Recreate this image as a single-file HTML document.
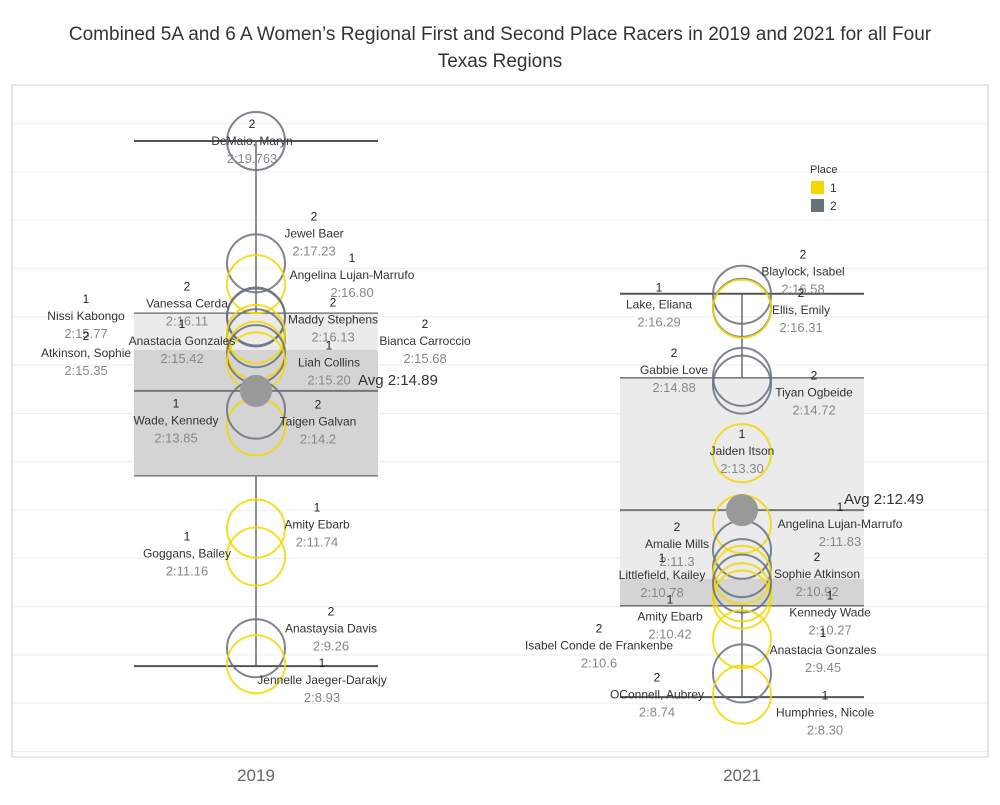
<!DOCTYPE html>
<html><head><meta charset="utf-8">
<style>
body{margin:0;background:#fff;}
svg text{font-family:"Liberation Sans",sans-serif;}
</style></head>
<body>
<svg id="chart" width="1000" height="800" xmlns="http://www.w3.org/2000/svg">
<text x="500" y="40" text-anchor="middle" font-size="19" fill="#333">Combined 5A and 6 A Women’s Regional First and Second Place Racers in 2019 and 2021 for all Four</text>
<text x="500" y="67" text-anchor="middle" font-size="19" fill="#333">Texas Regions</text>
<rect x="12" y="85" width="976" height="672" fill="none" stroke="#cfcfcf"/>
<g id="grid"></g>
<g id="boxes"></g>
<g id="marks"></g>
<g id="labels"></g>
<g>
<text x="810" y="173" font-size="11" fill="#333">Place</text>
<rect x="811" y="181" width="13" height="13" fill="#f5d800"/>
<text x="830" y="192" font-size="12" fill="#333">1</text>
<rect x="811" y="199" width="13" height="13" fill="#66717c"/>
<text x="830" y="210" font-size="12" fill="#333">2</text>
</g>
<text x="256" y="781" text-anchor="middle" font-size="17" fill="#666">2019</text>
<text x="742" y="781" text-anchor="middle" font-size="17" fill="#666">2021</text>
</svg>
<script>
const years = [2019, 2021];
const names2019 = ["DeMaio, Maryn","Jewel Baer","Angelina Lujan-Marrufo","Vanessa Cerda","Maddy Stephens","Bianca Carroccio","Nissi Kabongo","Anastacia Gonzales","Atkinson, Sophie","Liah Collins","Wade, Kennedy","Taigen Galvan","Amity Ebarb","Goggans, Bailey","Anastaysia Davis","Jennelle Jaeger-Darakjy"];
const times2019 = [139.763,137.23,136.80,136.11,136.13,135.68,135.77,135.42,135.35,135.20,133.85,134.2,131.74,131.16,129.26,128.93];
const labels2019 = ["2:19.763","2:17.23","2:16.80","2:16.11","2:16.13","2:15.68","2:15.77","2:15.42","2:15.35","2:15.20","2:13.85","2:14.2","2:11.74","2:11.16","2:9.26","2:8.93"];
const places2019 = [2,2,1,2,2,2,1,1,2,1,1,2,1,1,2,1];
const names2021 = ["Blaylock, Isabel","Ellis, Emily","Lake, Eliana","Gabbie Love","Tiyan Ogbeide","Jaiden Itson","Angelina Lujan-Marrufo","Amalie Mills","Sophie Atkinson","Littlefield, Kailey","Amity Ebarb","Kennedy Wade","Isabel Conde de Frankenbe","Anastacia Gonzales","OConnell, Aubrey","Humphries, Nicole"];
const times2021 = [136.58,136.31,136.29,134.88,134.72,133.30,131.83,131.3,130.92,130.78,130.42,130.27,130.6,129.45,128.74,128.30];
const labels2021 = ["2:16.58","2:16.31","2:16.29","2:14.88","2:14.72","2:13.30","2:11.83","2:11.3","2:10.92","2:10.78","2:10.42","2:10.27","2:10.6","2:9.45","2:8.74","2:8.30"];
const places2021 = [2,2,1,2,2,1,1,2,2,1,1,1,2,1,2,1];
// box plot stats: [whiskerTop, boxTop, boxMid, median, boxBottom, whiskerBottom]
const box2019 = [139.763,136.2,135.44,134.59,132.83,128.89];
const box2021 = [136.60,134.86,130.70,132.12,130.14,128.25];
const avgLabels = ["Avg 2:14.89","Avg 2:12.49"];
const gridTicks = [140,139,138,137,136,135,134,133,132,131,130,129,128,127];

const NS="http://www.w3.org/2000/svg";
function yScale(v){return 141+(139.763-v)*48.3;}
function xScale(yr){return yr===2019?256:742;}
function mk(tag,attrs,parent){const e=document.createElementNS(NS,tag);for(const k in attrs)e.setAttribute(k,attrs[k]);parent.appendChild(e);return e;}

const grid=document.getElementById('grid');
gridTicks.forEach(t=>{const y=yScale(t)-6; if(y>86&&y<756){
 const l=mk('line',{x1:13,x2:987,y1:y,y2:y,stroke:'#eeeeee'},grid);
 
 
}});

const boxes=document.getElementById('boxes');
[box2019,box2021].forEach((b,i)=>{
 const cx=xScale(years[i]); const x0=cx-122, w=244;
 const top=yScale(b[1]), mid=yScale(b[2]), bot=yScale(b[4]);
 const r1=mk('rect',{x:x0,y:top,width:w,height:mid-top,fill:'#ebebeb'},boxes);
 
 
 const r2=mk('rect',{x:x0,y:mid,width:w,height:bot-mid,fill:'#d4d4d4'},boxes);
 
 
 [[b[0],b[1]],[b[4],b[5]]].forEach(p=>{
  const v=mk('line',{x1:cx,x2:cx,y1:yScale(p[0]),y2:yScale(p[1]),stroke:'#555','stroke-width':1.3},boxes);
  
  
 });
 [b[0],b[5],b[1],b[4]].forEach((val,k)=>{
  const h=mk('line',{x1:x0,x2:x0+w,y1:yScale(val),y2:yScale(val),stroke:k<2?'#555':'#666','stroke-width':k<2?2:1.3},boxes);
  
  
 });
 const m=mk('line',{x1:x0,x2:x0+w,y1:yScale(b[3]),y2:yScale(b[3]),stroke:'#777','stroke-width':2},boxes);
 
 
 const t=mk('text',{x:x0+w-20,y:yScale(b[3])-6,'font-size':15,fill:'#333'},boxes);
 t.textContent=avgLabels[i];
 
 
});

const marks=document.getElementById('marks');
const labels=document.getElementById('labels');
// label offsets (layout only)
const off2019=[[252,0],[314,-30],[352,-9],[187,-14],[333,3],[425,3],[86,-18],[182,-10],[86,-1],[329,1],[176,-6],[318,12],[317,-4],[187,-3],[331,-20],[322,16]];
const off2021=[[803,-23],[801,2],[659,-4],[674,-7],[814,8],[742,-2],[840,0],[677,-6],[817,6],[662,0],[670,24],[830,13],[599,62],[823,11],[657,21],[825,18]];
[[names2019,times2019,labels2019,places2019,off2019,2019],[names2021,times2021,labels2021,places2021,off2021,2021]].forEach(set=>{
 const [nm,tm,lb,pl,off,yr]=set;
 tm.forEach((v,i)=>{
  const cy=yScale(v), cx=xScale(yr);
  const c=mk('circle',{cx:cx,cy:cy,r:29,fill:'none',stroke:pl[i]===1?'#f5d800':'#66717c','stroke-width':2,opacity:0.85},marks);
  
  
  const lx=off[i][0], ly=cy+off[i][1];
  const g=mk('g',{},labels);
  
  
  const a=mk('text',{x:lx,y:ly-13,'text-anchor':'middle','font-size':12,fill:'#222'},g); a.textContent=pl[i];
  const b=mk('text',{x:lx,y:ly+4,'text-anchor':'middle','font-size':12,fill:'#333'},g); b.textContent=nm[i];
  const d=mk('text',{x:lx,y:ly+22,'text-anchor':'middle','font-size':13,fill:'#888'},g); d.textContent=lb[i];
 });
});
[box2019,box2021].forEach((b,i)=>{
 const dot=mk('circle',{cx:xScale(years[i]),cy:yScale(b[3]),r:16,fill:'#999'},marks);
 
 
});
</script>
</body></html>
